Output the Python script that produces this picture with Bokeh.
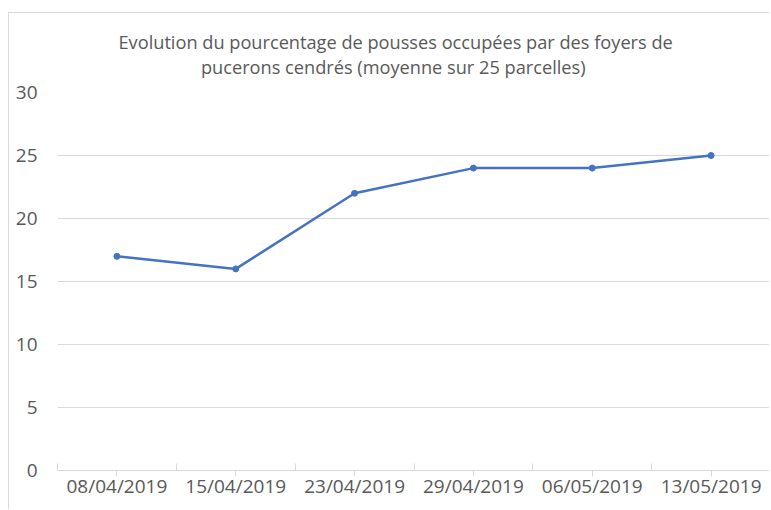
from bokeh.plotting import figure
from bokeh.models import FixedTicker, Range1d, Title
from bokeh.embed import file_html
from bokeh.resources import INLINE

dates = ["08/04/2019", "15/04/2019", "23/04/2019", "29/04/2019", "06/05/2019", "13/05/2019"]
values = [17, 16, 22, 24, 24, 25]
y_ticks = [0, 5, 10, 15, 20, 25, 30]
title_lines = ["Evolution du pourcentage de pousses occupées par des foyers de",
               "pucerons cendrés  (moyenne sur 25 parcelles)"]

xs = [i + 0.5 for i in range(len(dates))]
bounds = list(range(len(dates) + 1))

FONT = "Open Sans"
GREY = "#595959"
LINE = "#d9d9d9"

p = figure(width=761, height=497, output_backend="svg", toolbar_location=None,
           x_range=Range1d(0, len(dates)), y_range=Range1d(0, 30),
           min_border_left=48, min_border_right=0, min_border_bottom=40, min_border_top=79)
p.styles = {"margin-left": "8px", "margin-top": "12px",
            "border-left": f"1px solid {LINE}", "border-top": f"1px solid {LINE}"}

p.add_layout(Title(text="\n".join(title_lines), align="left", text_align="center",
                   vertical_align="top", text_font=FONT, text_font_size="18.2px",
                   text_line_height=1.04, text_font_style="normal", text_color=GREY,
                   standoff=23, offset=61), "above")

p.outline_line_color = None
p.background_fill_color = "white"
p.border_fill_color = "white"

p.xgrid.grid_line_color = None
p.ygrid.grid_line_color = LINE
p.ygrid.grid_line_width = 1
p.ygrid.ticker = FixedTicker(ticks=y_ticks)

xa = p.xaxis[0]
xa.ticker = FixedTicker(ticks=xs, minor_ticks=bounds)
xa.major_label_overrides = {x: d for x, d in zip(xs, dates)}
xa.axis_line_color = LINE
xa.major_tick_line_color = LINE
xa.minor_tick_line_color = LINE
xa.major_tick_in = 0
xa.major_tick_out = 6
xa.minor_tick_in = 7
xa.minor_tick_out = 0
xa.major_label_text_font = FONT
xa.major_label_text_font_size = "19px"
xa.major_label_text_color = GREY
xa.major_label_standoff = -4

ya = p.yaxis[0]
ya.ticker = FixedTicker(ticks=y_ticks)
ya.axis_line_color = None
ya.major_tick_line_color = None
ya.minor_tick_line_color = None
ya.major_label_text_font = FONT
ya.major_label_text_font_size = "19px"
ya.major_label_text_color = GREY
ya.major_label_standoff = 14

p.line(xs, values, line_color="#4472C4", line_width=2.5)
p.scatter(xs, values, size=6, fill_color="#4472C4", line_color="#4472C4")

open("out.html", "w").write(file_html(p, INLINE))
